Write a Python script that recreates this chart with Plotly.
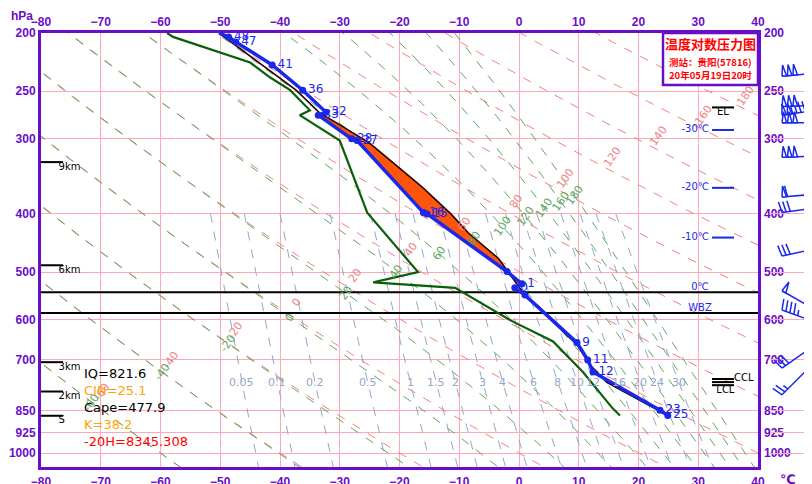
import numpy as np
import plotly.graph_objects as go

# ---------------- data ----------------
x_ticks = list(range(-80, 41, 10))
p_ticks = [200, 250, 300, 400, 500, 600, 700, 850, 925, 1000]
P_TOP, P_BOT = 200, 1055
T_MIN, T_MAX = -80, 40

# environment temperature profile
temp_p = [200, 203, 207, 226, 249, 271, 274, 300, 302, 398, 400, 499, 523, 531, 546, 655, 700, 733, 849, 866]
temp_t = [-50.2, -48.6, -47.4, -41.3, -36.2, -32.3, -33.6, -28.0, -27.1, -16.0, -15.4, -2.0, 0.5, -0.7, 1.0, 9.7, 11.5, 12.4, 23.6, 24.9]
temp_lbl = ["", "48", "47", "41", "36", "32", "33", "28", "27", "16", "15", "", "1", "0", "", "9", "11", "12", "23", "25"]

# dew point profile
dew_p = [200, 203, 224, 237, 249, 269, 274, 302, 398, 500, 520, 531, 601, 636, 652, 733, 841, 866]
dew_t = [-58.9, -57.9, -45.0, -41.7, -38.3, -35.0, -36.7, -30.0, -25.4, -16.9, -24.4, -10.7, -1.5, 3.5, 5.7, 10.7, 15.6, 16.9]

# parcel (state) curve
parcel_p = [200, 231, 249, 272, 282, 305, 335, 361, 400, 430, 475, 497, 546, 660, 714, 763, 858, 866]
parcel_t = [-50.2, -41.7, -37.3, -33.3, -30.6, -25.0, -20.0, -16.2, -11.4, -8.5, -3.4, -2.0, 1.0, 9.7, 11.9, 14.7, 24.3, 24.9]
cape_top, cape_bot = 272, 499
cin_top, cin_bot = 735, 858

# background line families
dry_theta = list(range(-60, 181, 20))
pseudo_theta = list(range(-60, 181, 20))
mix_w = [0.05, 0.1, 0.2, 0.5, 1, 1.5, 2, 3, 4, 6, 8, 10, 12, 16, 20, 24, 30]
mix_lbl = ["0.05", "0.1", "0.2", "0.5", "1", "1.5", "2", "3", "4", "6", "8", "10", "12", "16", "20", "24", "30"]
mix_top, mix_lbl_p = 400, 762
dry_lbl_line = [(-67.3, 765), (37.0, 255)]
pse_lbl_line = [(-69.6, 807), (10.2, 369)]

# special levels
zero_p, wbz_p = 540, 585
height_p = [328, 487, 706, 790, 867]
height_lbl = ["9km", "6km", "3km", "2km", "S"]
iso_p = [290, 362, 438]
iso_lbl = ["-30℃", "-20℃", "-10℃"]
el_p = 266
cond_p = [753, 762, 771]
cond_lbl = ["CCL", "", "LCL"]

stats_lbl = ["IQ=821.6", "CIN=25.1", "Cape=477.9", "K=38.2", "-20H=8345.308"]
stats_col = ["black", "#FFA500", "black", "#FFA500", "red"]

title_lines = ["温度对数压力图", "测站：贵阳(57816)", "20年05月19日20时"]

# wind (pressure hPa, direction deg, speed m/s)
wind_p = [236, 265, 274, 282, 322, 375, 398, 470, 537, 578, 722, 800]
wind_dir = [265, 268, 262, 270, 268, 265, 262, 258, 300, 290, 235, 225]
wind_spd = [60, 60, 56, 60, 60, 24, 12, 12, 20, 18, 12, 10]

# ---------------- layout geometry (window pixels) ----------------
W, H = 812, 484
BODY = 8                      # default page body margin
FIG_W, FIG_H = W - BODY, H - BODY
PX_L, PX_R, PX_T, PX_B = 41, 758, 33, 467
plot_w = W - PX_L
plot_h = PX_B - PX_T
K_LN = plot_h / np.log(P_BOT / P_TOP)      # px per unit ln(p)
S_T = (PX_R - PX_L) / (T_MAX - T_MIN)      # px per degC


def fx(px):
    return (px - PX_L) / plot_w


def fy(py):
    return (PX_B - py) / plot_h


PURPLE = "#6A0DC8"
PINK = "rgb(255,168,184)"
RED_D = "rgb(238,130,130)"
GREEN_D = "rgb(95,165,95)"
MIX_C = "rgb(150,165,200)"
BLUE = "rgb(25,40,235)"
FONT = "DejaVu Sans"
TICK_FONT = "Liberation Sans"

pg = np.exp(np.linspace(np.log(180), np.log(1080), 300))


def dry(theta_c, p):
    return (theta_c + 273.15) * (p / 1000.0) ** 0.286 - 273.15


def theta_e_sat(tk, p):
    tc = tk - 273.15
    es = 6.112 * np.exp(17.67 * tc / (tc + 243.5))
    r = 622.0 * es / (p - es)
    return tk * (1000.0 / p) ** (0.2854 * (1 - 0.28e-3 * r)) * np.exp((3.376 / tk - 0.00254) * r * (1 + 0.81e-3 * r))


def pseudo(theta_c, p):
    lo = np.full_like(p, 100.0)
    hi = np.full_like(p, 318.0)
    target = theta_c + 273.15
    for _ in range(60):
        mid = 0.5 * (lo + hi)
        f = theta_e_sat(mid, p)
        lo = np.where(f < target, mid, lo)
        hi = np.where(f >= target, mid, hi)
    return 0.5 * (lo + hi) - 273.15


def mixing(w, p):
    e = w * p / (622.0 + w)
    L = np.log(e / 6.112)
    tw = 243.5 * L / (17.67 - L)
    ti = 272.62 * L / (22.46 - L)
    return np.where(L >= 0, tw, ti)


def cross_label(tc, pc, a, b):
    X = (tc - a[0]) * S_T
    Y = (np.log(pc) - np.log(a[1])) * K_LN
    bx = (b[0] - a[0]) * S_T
    by = (np.log(b[1]) - np.log(a[1])) * K_LN
    c = X * by - Y * bx
    idx = np.where(np.diff(np.sign(c)) != 0)[0]
    if len(idx) == 0:
        return None
    i = idx[0]
    t = c[i] / (c[i] - c[i + 1])
    T = tc[i] + t * (tc[i + 1] - tc[i])
    P = np.exp(np.log(pc[i]) + t * (np.log(pc[i + 1]) - np.log(pc[i])))
    return T, P


fig = go.Figure()
annots = []

# dry adiabats
xs, ys = [], []
for th in dry_theta:
    t = dry(th, pg)
    xs += list(t) + [None]
    ys += list(pg) + [None]
    c = cross_label(t, pg, *dry_lbl_line)
    if c and T_MIN < c[0] < T_MAX and P_TOP < c[1] < P_BOT:
        annots.append(dict(x=c[0], y=np.log10(c[1]), xref="x", yref="y", text=str(th), showarrow=False,
                           textangle=-55, xanchor="center", yanchor="middle", xshift=17, yshift=6,
                           font=dict(size=11, color=RED_D, family=FONT)))
fig.add_trace(go.Scatter(x=xs, y=ys, mode="lines", line=dict(color=RED_D, width=1, dash="dash"),
                         hoverinfo="skip", showlegend=False))

# pseudo adiabats
xs, ys = [], []
for th in pseudo_theta:
    t = pseudo(th, pg)
    xs += list(t) + [None]
    ys += list(pg) + [None]
    c = cross_label(t, pg, *pse_lbl_line)
    if c and T_MIN < c[0] < T_MAX and P_TOP < c[1] < P_BOT:
        annots.append(dict(x=c[0], y=np.log10(c[1]), xref="x", yref="y", text=str(th), showarrow=False,
                           textangle=-55, xanchor="center", yanchor="middle",
                           font=dict(size=11, color=GREEN_D, family=FONT)))
fig.add_trace(go.Scatter(x=xs, y=ys, mode="lines", line=dict(color=GREEN_D, width=1, dash="dash"),
                         hoverinfo="skip", showlegend=False))

# mixing ratio lines
pm = np.exp(np.linspace(np.log(mix_top), np.log(1080), 80))
xs, ys = [], []
for w, lb in zip(mix_w, mix_lbl):
    t = mixing(w, pm)
    xs += list(t) + [None]
    ys += list(pm) + [None]
    tl = float(mixing(w, np.array([mix_lbl_p]))[0])
    annots.append(dict(x=tl, y=np.log10(mix_lbl_p), xref="x", yref="y", text=lb, showarrow=False,
                       xanchor="center", yanchor="middle",
                       font=dict(size=11, color=MIX_C, family=FONT)))
fig.add_trace(go.Scatter(x=xs, y=ys, mode="lines", line=dict(color=MIX_C, width=1, dash="dash"),
                         hoverinfo="skip", showlegend=False))

# CAPE / CIN fill
par_sorted = sorted(zip(parcel_p, parcel_t))
pp_s = np.log([a for a, _ in par_sorted])
pt_s = [b for _, b in par_sorted]
env_sorted = sorted(zip(temp_p, temp_t))
ep_s = np.log([a for a, _ in env_sorted])
et_s = [b for _, b in env_sorted]


def band(p0, p1, color):
    pp = np.exp(np.linspace(np.log(p0), np.log(p1), 60))
    par = np.interp(np.log(pp), pp_s, pt_s)
    env = np.interp(np.log(pp), ep_s, et_s)
    fig.add_trace(go.Scatter(x=list(par) + list(env[::-1]), y=list(pp) + list(pp[::-1]), mode="lines",
                             fill="toself", fillcolor=color, line=dict(width=0), hoverinfo="skip",
                             showlegend=False))


band(cape_top, cape_bot, "rgb(255,85,10)")
band(cin_top, cin_bot, "rgb(190,30,10)")

# 0C and WBZ lines
for lv in [zero_p, wbz_p]:
    fig.add_trace(go.Scatter(x=[T_MIN, T_MAX], y=[lv, lv], mode="lines", line=dict(color="black", width=2),
                             hoverinfo="skip", showlegend=False))

# parcel curve
fig.add_trace(go.Scatter(x=parcel_t, y=parcel_p, mode="lines", line=dict(color="rgb(40,0,0)", width=1.6),
                         hoverinfo="skip", showlegend=False))
# dewpoint
fig.add_trace(go.Scatter(x=dew_t, y=dew_p, mode="lines", line=dict(color="rgb(10,95,10)", width=2.2),
                         hoverinfo="skip", showlegend=False))
# temperature
fig.add_trace(go.Scatter(x=temp_t, y=temp_p, mode="lines+markers+text", text=temp_lbl,
                         textposition="middle right",
                         textfont=dict(size=12, color=BLUE, family=FONT),
                         line=dict(color=BLUE, width=3.5), marker=dict(color=BLUE, size=7),
                         hoverinfo="skip", showlegend=False, cliponaxis=False))

# height markers (left)
seg = 22 / S_T
xs, ys = [], []
for lv in height_p:
    xs += [T_MIN, T_MIN + seg, None]
    ys += [lv, lv, None]
fig.add_trace(go.Scatter(x=xs, y=ys, mode="lines", line=dict(color="black", width=2),
                         hoverinfo="skip", showlegend=False))
fig.add_trace(go.Scatter(x=[T_MIN + seg * 0.8] * len(height_p), y=height_p, mode="text", text=height_lbl,
                         textposition="bottom right", textfont=dict(size=10, color="black", family=FONT),
                         hoverinfo="skip", showlegend=False))

# right-side markers
mx0 = T_MIN + (712 - PX_L) / S_T
mx1 = T_MIN + (734 - PX_L) / S_T
xs, ys = [], []
for lv in iso_p:
    xs += [mx0, mx1, None]
    ys += [lv, lv, None]
fig.add_trace(go.Scatter(x=xs, y=ys, mode="lines", line=dict(color=BLUE, width=2),
                         hoverinfo="skip", showlegend=False))
fig.add_trace(go.Scatter(x=[mx0 - 0.5] * len(iso_p), y=iso_p, mode="text", text=iso_lbl,
                         textposition="middle left", textfont=dict(size=10, color=BLUE, family=FONT),
                         hoverinfo="skip", showlegend=False))
xs, ys = [], []
for lv in [el_p] + cond_p:
    xs += [mx0, mx1, None]
    ys += [lv, lv, None]
fig.add_trace(go.Scatter(x=xs, y=ys, mode="lines", line=dict(color="black", width=2),
                         hoverinfo="skip", showlegend=False))
fig.add_trace(go.Scatter(x=[(mx0 + mx1) / 2], y=[el_p], mode="text", text=["EL"], textposition="bottom center",
                         textfont=dict(size=10, color="black", family=FONT), hoverinfo="skip", showlegend=False))
fig.add_trace(go.Scatter(x=[mx1, (mx0 + mx1) / 2 + 0.4], y=[cond_p[0], cond_p[2]], mode="text",
                         text=[cond_lbl[0], cond_lbl[2]], textposition=["middle right", "bottom center"],
                         textfont=dict(size=10, color="black", family=FONT), hoverinfo="skip",
                         showlegend=False, cliponaxis=False))
lvx = T_MIN + (700 - PX_L) / S_T
fig.add_trace(go.Scatter(x=[lvx, lvx], y=[zero_p, wbz_p], mode="text", text=["0℃", "WBZ"],
                         textposition="top center", textfont=dict(size=10, color=BLUE, family=FONT),
                         hoverinfo="skip", showlegend=False))

# wind barbs (drawn in right margin subplot, x2 in pixel units)
TIP_X, L_ST, SP, FL = 782, 50, 4.2, 11
lx, ly, fxp, fyp = [], [], [], []
for p, d, s in zip(wind_p, wind_dir, wind_spd):
    r = np.radians(d)
    sx, sy = np.sin(r), -np.cos(r)
    qx, qy = np.cos(r), np.sin(r)

    def pt(a, b):
        dx = -sx * a + qx * b
        dy = -sy * a + qy * b
        return TIP_X + dx, p * np.exp(dy / K_LN)

    a0, a1 = pt(0, 0), pt(L_ST, 0)
    lx += [a0[0], a1[0], None]
    ly += [a0[1], a1[1], None]
    n_pen = int(s // 20)
    rem = s - 20 * n_pen
    n_full = int(rem // 4)
    n_half = int((rem - 4 * n_full) // 2)
    off = 0.0
    for _ in range(n_pen):
        for q in [pt(off, 0), pt(off + 1.5, FL), pt(off + 4.5, 0), pt(off, 0)]:
            fxp.append(q[0]); fyp.append(q[1])
        fxp.append(None); fyp.append(None)
        off += 5.5
    for _ in range(n_full):
        q0, q1 = pt(off, 0), pt(off - 2, FL)
        lx += [q0[0], q1[0], None]
        ly += [q0[1], q1[1], None]
        off += SP
    for _ in range(n_half):
        q0, q1 = pt(off, 0), pt(off - 1, FL / 2)
        lx += [q0[0], q1[0], None]
        ly += [q0[1], q1[1], None]
        off += SP
fig.add_trace(go.Scatter(x=lx, y=ly, xaxis="x2", yaxis="y", mode="lines", line=dict(color=BLUE, width=1.5),
                         hoverinfo="skip", showlegend=False))
fig.add_trace(go.Scatter(x=fxp, y=fyp, xaxis="x2", yaxis="y", mode="lines", fill="toself", fillcolor="white",
                         line=dict(color=BLUE, width=1.5), hoverinfo="skip", showlegend=False))

# helper traces for overlay axes
fig.add_trace(go.Scatter(x=[0], y=[500], xaxis="x3", yaxis="y", mode="markers", marker=dict(opacity=0),
                         hoverinfo="skip", showlegend=False))
fig.add_trace(go.Scatter(x=[0], y=[500], xaxis="x", yaxis="y2", mode="markers", marker=dict(opacity=0),
                         hoverinfo="skip", showlegend=False))

# stats text
for i, (t, c) in enumerate(zip(stats_lbl, stats_col)):
    annots.append(dict(x=fx(82), y=fy(373 + i * 17.2), xref="paper", yref="paper", text=t, showarrow=False,
                       xanchor="left", yanchor="middle", font=dict(size=13, color=c, family=FONT)))

# title box text
title_y = [44, 62, 75]
title_sz = [13, 9.5, 9.5]
for tl, yy, sz in zip(title_lines, title_y, title_sz):
    annots.append(dict(x=fx(710), y=fy(yy), xref="paper", yref="paper", text="<b>" + tl + "</b>",
                       showarrow=False, xanchor="center", yanchor="middle",
                       font=dict(size=sz, color="red", family="Noto Sans CJK SC")))
annots.append(dict(x=fx(22), y=fy(16), xref="paper", yref="paper", text="<b>hPa</b>", showarrow=False,
                   xanchor="center", yanchor="middle", font=dict(size=12, color=PURPLE, family=TICK_FONT)))
annots.append(dict(x=fx(788), y=fy(479), xref="paper", yref="paper", text="<b>℃</b>", showarrow=False,
                   xanchor="center", yanchor="middle", font=dict(size=13, color=PURPLE, family=FONT)))

shapes = [dict(type="rect", xref="paper", yref="paper", x0=fx(663), x1=fx(758), y0=fy(85), y1=fy(33),
               fillcolor="white", line=dict(color=PURPLE, width=2.5), layer="above")]

xdom = [0, fx(PX_R)]
tickfont = dict(size=12, color=PURPLE, family=TICK_FONT, weight="bold")
yr = [np.log10(P_BOT), np.log10(P_TOP)]

fig.update_layout(
    width=FIG_W, height=FIG_H,
    margin=dict(l=PX_L - BODY, r=0, t=PX_T - BODY, b=(H - BODY) - (PX_B - BODY), autoexpand=False),
    paper_bgcolor="white", plot_bgcolor="white",
    xaxis=dict(domain=xdom, range=[T_MIN, T_MAX], tickvals=x_ticks, showgrid=True, gridcolor=PINK, gridwidth=1,
               zeroline=False, showline=True, linecolor=PURPLE, linewidth=3, mirror=True, ticks="",
               tickfont=tickfont, anchor="y", ticklabelstandoff=2, automargin=False),
    xaxis3=dict(domain=xdom, range=[T_MIN, T_MAX], tickvals=x_ticks, overlaying="x", side="top", showgrid=False,
                zeroline=False, showline=False, ticks="", tickfont=tickfont, anchor="y", ticklabelstandoff=4,
                automargin=False),
    xaxis2=dict(domain=[fx(770), 1], range=[770, W], visible=False, anchor="y", automargin=False),
    yaxis=dict(type="log", range=yr, tickvals=p_ticks, ticktext=[str(v) for v in p_ticks], showgrid=True,
               gridcolor=PINK, gridwidth=1, zeroline=False, showline=True, linecolor=PURPLE, linewidth=3,
               mirror=True, ticks="", tickfont=tickfont, anchor="x", automargin=False, ticklabelstandoff=0),
    yaxis2=dict(type="log", range=yr, tickvals=p_ticks, ticktext=[str(v) for v in p_ticks], overlaying="y",
                side="right", anchor="x", showgrid=False, zeroline=False, showline=False, ticks="",
                tickfont=tickfont, automargin=False, ticklabelstandoff=5),
    annotations=annots, shapes=shapes, showlegend=False,
)

fig.write_html("out.html")
